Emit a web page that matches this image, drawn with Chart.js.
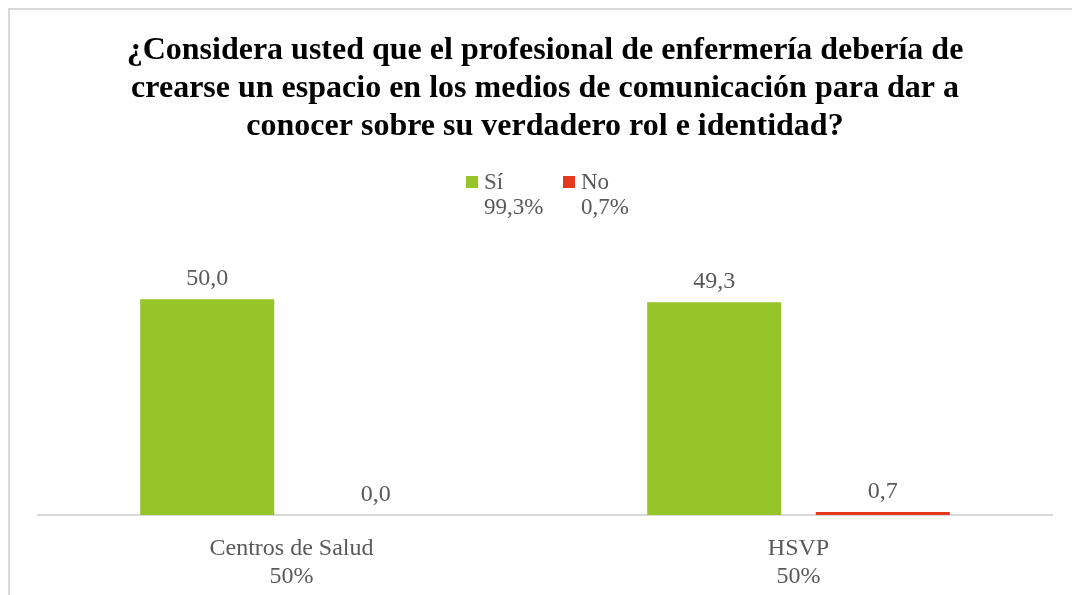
<!DOCTYPE html>
<html>
<head>
<meta charset="utf-8">
<script src="https://cdn.jsdelivr.net/npm/chart.js@4"></script>
<style>
    html, body { margin: 0; background: #fff; overflow: hidden; }
    #wrap { position: relative; width: 1072px; height: 595px; overflow: hidden; }
    #frame {
        position: absolute; left: 8px; top: 8px; right: -4px; bottom: -4px;
        border-left: 2px solid #d9d9d9; border-top: 2px solid #d9d9d9;
        pointer-events: none;
    }
    canvas { position: absolute; left: 0; top: 0; }
</style>
</head>
<body>
<div id="wrap">
    <canvas id="chart" width="1072" height="611"></canvas>
    <div id="frame"></div>
</div>
<script>
// Data
const categories = ["Centros de Salud", "HSVP"];
const categoryShares = ["50%", "50%"];
const seriesNames = ["Sí", "No"];
const seriesTotals = ["99,3%", "0,7%"];
const siValues = [50.0, 49.3];
const noValues = [0.0, 0.7];
const titleLines = [
    "¿Considera usted que el profesional de enfermería debería de",
    "crearse un espacio en los medios de comunicación para dar a",
    "conocer sobre su verdadero rol e identidad?",
];

const GREEN = "#96C52A";
const RED = "#E5391E";
const TEXT = "#595959";
const FONT = "'Liberation Serif', 'Times New Roman', serif";

const formatValue = (v) => v.toFixed(1).replace(".", ",");

// value labels above each bar
const valueLabels = {
    id: "valueLabels",
    afterDatasetsDraw(chart) {
        const ctx = chart.ctx;
        ctx.save();
        ctx.font = "24px " + FONT;
        ctx.fillStyle = TEXT;
        ctx.textAlign = "center";
        ctx.textBaseline = "alphabetic";
        chart.data.datasets.forEach((ds, i) => {
            chart.getDatasetMeta(i).data.forEach((bar, j) => {
                ctx.fillText(formatValue(ds.data[j]), bar.x, bar.y - 14);
            });
        });
        ctx.restore();
    },
};

// legend with the total share under each series name
const shareLegend = {
    id: "shareLegend",
    afterDraw(chart) {
        const ctx = chart.ctx;
        const startX = [466, 563];
        ctx.save();
        ctx.font = "23px " + FONT;
        ctx.textBaseline = "alphabetic";
        ctx.textAlign = "left";
        chart.data.datasets.forEach((ds, i) => {
            const x = startX[i];
            ctx.fillStyle = ds.backgroundColor;
            ctx.fillRect(x, 176, 12, 12);
            ctx.fillStyle = TEXT;
            ctx.fillText(ds.label, x + 18, 189);
            ctx.fillText(seriesTotals[i], x + 18, 214);
        });
        ctx.restore();
    },
};

const ctx = document.getElementById("chart").getContext("2d");
new Chart(ctx, {
    type: "bar",
    data: {
        labels: categories.map((c, i) => [c, categoryShares[i]]),
        datasets: [
            {
                label: seriesNames[0],
                data: siValues,
                backgroundColor: GREEN,
                categoryPercentage: 0.665,
                barPercentage: 0.795,
            },
            {
                label: seriesNames[1],
                data: noValues,
                backgroundColor: RED,
                categoryPercentage: 0.665,
                barPercentage: 0.795,
            },
        ],
    },
    options: {
        responsive: false,
        animation: false,
        devicePixelRatio: 1,
        layout: {
            padding: { left: 38, right: 20, top: 0, bottom: 0 },
        },
        plugins: {
            legend: { display: false },
            tooltip: { enabled: false },
            title: {
                display: true,
                text: titleLines,
                color: "#000",
                font: { family: FONT, size: 32, weight: "bold", lineHeight: "38px" },
                padding: { top: 32, bottom: 110 },
            },
        },
        scales: {
            x: {
                grid: { display: false, drawTicks: false },
                border: { display: true, color: "#d9d9d9", width: 2 },
                ticks: {
                    color: TEXT,
                    padding: 20,
                    font: { family: FONT, size: 24, lineHeight: "28px" },
                },
            },
            y: {
                display: false,
                min: 0,
                max: 60,
            },
        },
    },
    plugins: [valueLabels, shareLegend],
});
</script>
</body>
</html>
